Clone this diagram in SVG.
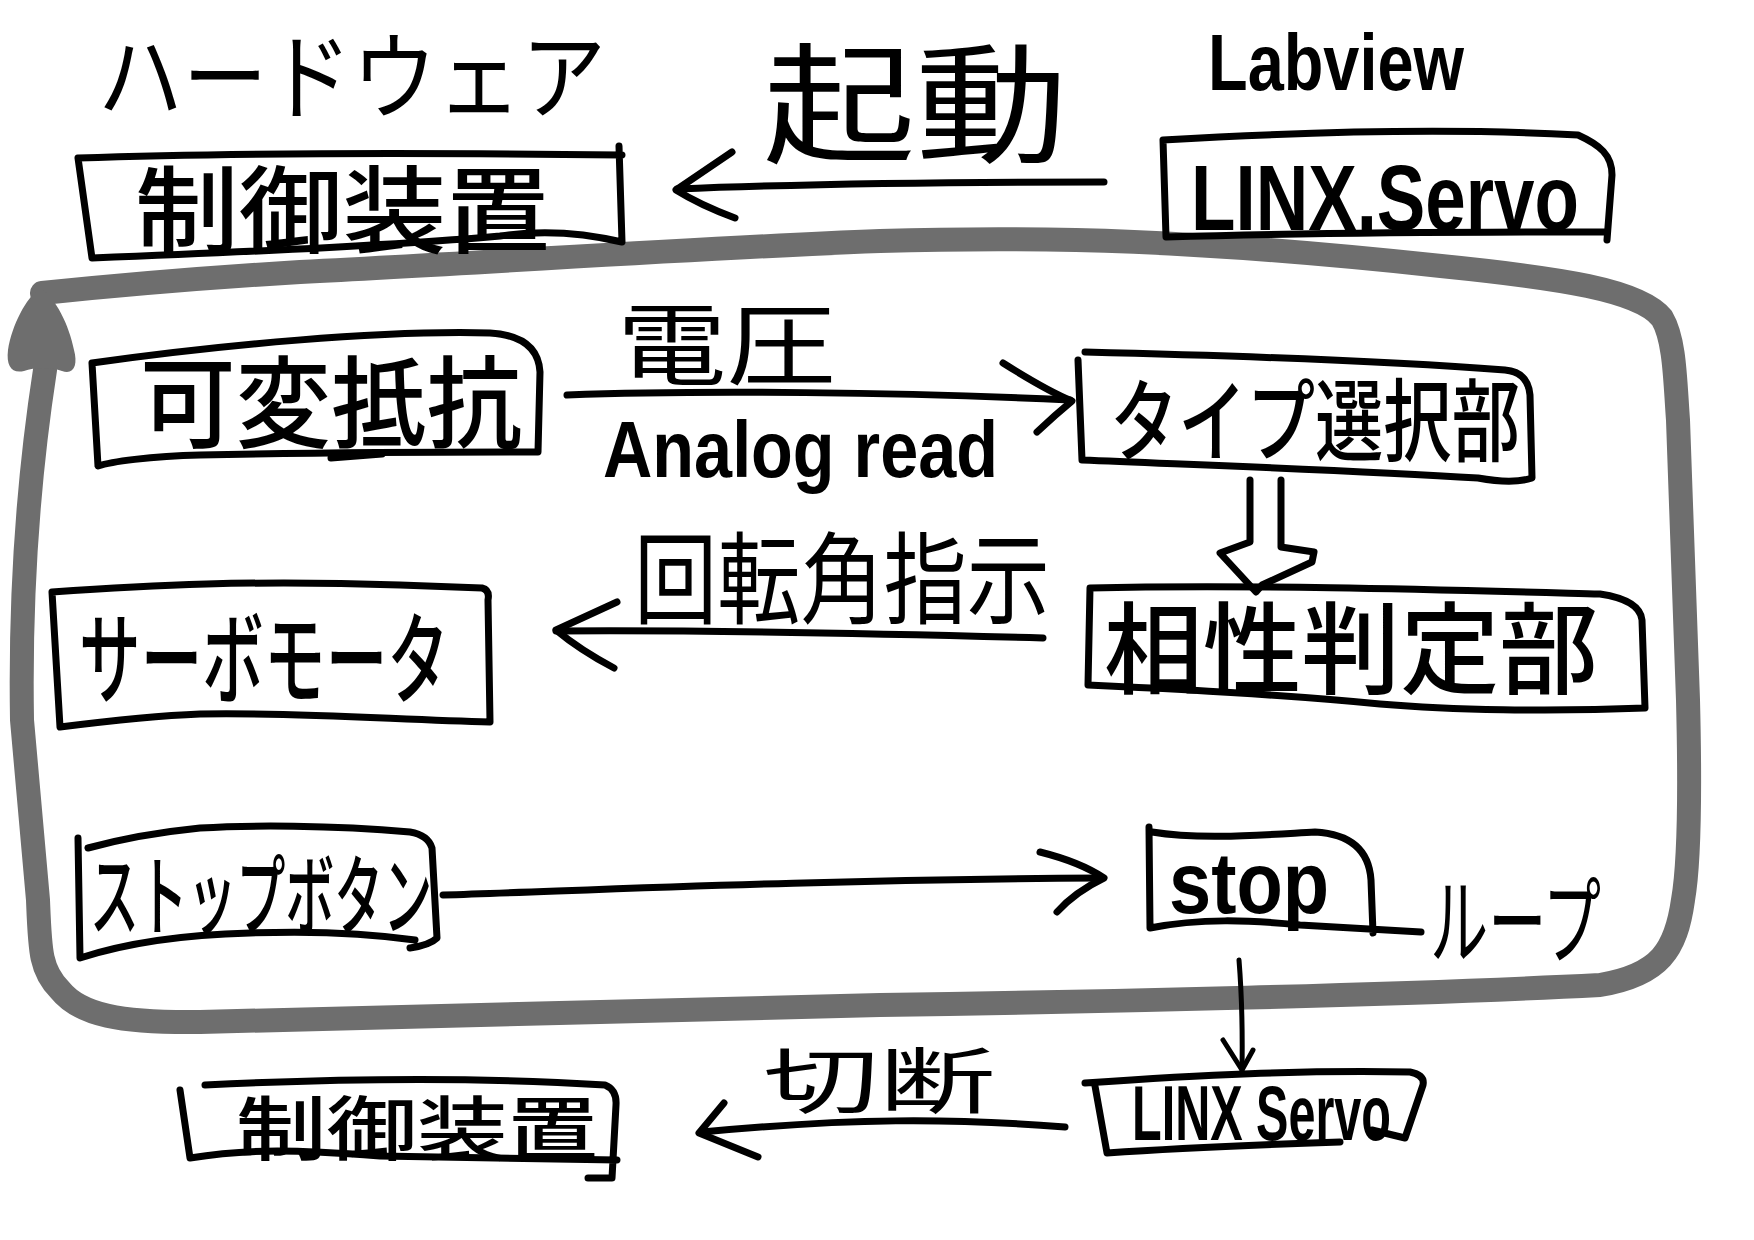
<svg xmlns="http://www.w3.org/2000/svg" width="1754" height="1240" viewBox="0 0 1754 1240">
<style>
.bg{fill:#fff}
.box{fill:none;stroke:#000;stroke-width:7;stroke-linecap:round;stroke-linejoin:round}
.ln{fill:none;stroke:#000;stroke-width:7;stroke-linecap:round;stroke-linejoin:round}
.thin{fill:none;stroke:#000;stroke-width:5;stroke-linecap:round;stroke-linejoin:round}
.loop{fill:none;stroke:#6e6e6e;stroke-width:24;stroke-linecap:round;stroke-linejoin:round}
.jp{font-family:"Noto Sans CJK JP","Noto Sans CJK SC",sans-serif;fill:#000;font-weight:500}
.jpl{font-family:"Noto Sans CJK JP","Noto Sans CJK SC",sans-serif;fill:#000;font-weight:normal}
.en{font-family:"Liberation Sans","DejaVu Sans",sans-serif;fill:#000;font-weight:bold}
</style>
<rect class="bg" x="0" y="0" width="1754" height="1240"/>

<g id="loop">
  <path class="loop" d="M42,293 C120,285 200,278 300,272 C500,262 700,248 880,241 C1050,236 1200,240 1441,266 C1560,278 1640,290 1662,318 C1675,340 1675,380 1678,420 L1688,700 C1690,780 1690,860 1683,900 C1676,950 1660,975 1600,985 C1400,995 1100,1002 880,1005 C600,1010 350,1020 200,1022 C120,1023 80,1015 60,990 C40,970 40,950 38,900 L22,720 C20,600 28,480 45,370"/>
  <path fill="#6e6e6e" d="M40,288 C26,298 12,325 8,350 C6,366 12,374 24,371 C34,367 52,367 62,371 C74,375 78,365 74,350 C69,325 56,298 40,288 Z"/>
</g>

<g id="title-hardware">
  <text class="jpl" x="98" y="112" font-size="95" textLength="508" lengthAdjust="spacingAndGlyphs">ハードウェア</text>
</g>
<g id="title-kido">
  <text class="jpl" x="763" y="152" font-size="130" textLength="305" lengthAdjust="spacingAndGlyphs">起動</text>
</g>
<g id="title-labview">
  <text class="en" x="1208" y="90" font-size="80" textLength="256" lengthAdjust="spacingAndGlyphs">Labview</text>
</g>

<g id="node-seigyo-top">
  <path class="box" d="M78,158 C250,152 450,153 622,155 M619,146 L622,242 C580,232 540,230 500,236 C400,245 250,252 92,258 L78,158"/>
  <text class="jp" x="135" y="246" font-size="95" textLength="415" lengthAdjust="spacingAndGlyphs">制御装置</text>
</g>

<g id="node-linx-top">
  <path class="box" d="M1163,140 C1300,132 1450,128 1578,135 C1600,145 1612,155 1612,175 L1607,240 M1605,232 C1450,232 1300,233 1166,237 L1163,140"/>
  <text class="en" x="1191" y="230" font-size="93" textLength="388" lengthAdjust="spacingAndGlyphs">LINX.Servo</text>
</g>

<g id="node-kahen">
  <path class="box" d="M92,363 C220,345 380,330 490,333 Q538,336 540,372 L538,452 C420,452 300,453 200,455 C150,456 110,462 98,466 L92,363"/>
  <path class="ln" stroke-width="9" d="M331,458 L382,454"/>
  <text class="jp" x="140" y="440" font-size="100" textLength="382" lengthAdjust="spacingAndGlyphs">可変抵抗</text>
</g>

<g id="node-type">
  <path class="box" d="M1085,352 C1250,356 1400,362 1505,370 Q1528,372 1530,395 L1532,478 C1520,482 1500,482 1478,478 C1350,470 1200,465 1082,460 L1078,360"/>
  <text class="jp" x="1110" y="454" font-size="90" textLength="410" lengthAdjust="spacingAndGlyphs">タイプ選択部</text>
</g>

<g id="node-aisei">
  <path class="box" d="M1090,588 C1250,584 1450,590 1600,594 Q1640,600 1642,620 L1645,708 C1550,712 1450,710 1380,704 C1300,696 1200,690 1088,685 L1090,588"/>
  <text class="jp" x="1104" y="686" font-size="100" textLength="494" lengthAdjust="spacingAndGlyphs">相性判定部</text>
</g>

<g id="node-servo">
  <path class="box" d="M52,592 C150,585 250,580 400,585 L482,588 Q490,590 488,600 L490,722 C400,720 300,712 200,714 C150,716 100,722 60,727 L52,592"/>
  <text class="jp" x="79" y="696" font-size="100" textLength="370" lengthAdjust="spacingAndGlyphs">サーボモータ</text>
</g>

<g id="node-stopbutton">
  <path class="box" d="M78,838 L80,958 C120,945 170,935 250,933 C330,930 380,935 415,940 M410,948 Q430,945 437,938 L432,848 Q428,835 410,832 C330,825 250,825 200,828 C150,833 110,842 88,848"/>
  <text class="jp" x="90" y="928" font-size="88" textLength="342" lengthAdjust="spacingAndGlyphs">ストップボタン</text>
</g>

<g id="node-stop">
  <path class="box" d="M1149,827 L1150,928 C1200,918 1250,920 1300,925 L1421,932 M1152,832 C1200,840 1260,835 1315,832 Q1368,835 1371,880 L1373,933"/>
  <text class="en" x="1169" y="913" font-size="88" textLength="160" lengthAdjust="spacingAndGlyphs">stop</text>
</g>

<g id="label-loop">
  <text class="jpl" x="1430" y="957" font-size="95" textLength="171" lengthAdjust="spacingAndGlyphs">ループ</text>
</g>

<g id="node-linx-bottom">
  <path class="box" d="M1085,1083 C1200,1075 1300,1070 1410,1072 Q1425,1075 1423,1085 L1405,1138 L1372,1130 M1340,1142 C1250,1145 1180,1148 1107,1153 L1095,1086"/>
  <text class="en" x="1132" y="1140" font-size="77" textLength="259" lengthAdjust="spacingAndGlyphs">LINX Servo</text>
</g>

<g id="node-seigyo-bottom">
  <path class="box" d="M180,1090 L190,1158 C250,1148 300,1150 380,1156 L617,1160 M205,1085 C350,1078 480,1077 605,1085 Q617,1090 616,1105 L612,1178 L588,1178"/>
  <text class="jp" x="236" y="1155" font-size="70" textLength="362" lengthAdjust="spacingAndGlyphs">制御装置</text>
</g>

<g id="connectors">
  <path class="ln" d="M1104,182 C950,182 800,184 677,189"/>
  <path class="ln" d="M732,152 L676,190 Q700,205 735,218"/>

  <path class="ln" d="M567,395 C700,390 900,392 1070,400"/>
  <path class="ln" d="M1003,363 C1030,380 1050,392 1072,401 Q1055,415 1037,432"/>

  <path class="ln" d="M1043,638 C900,634 700,630 556,631"/>
  <path class="ln" d="M617,602 L556,630 Q580,650 614,668"/>

  <path class="ln" d="M1250,480 L1250,542 L1220,553 L1256,592 L1262,585 L1312,562 L1314,552 L1281,547 L1281,480"/>

  <path class="ln" d="M443,895 C600,890 800,880 1100,878"/>
  <path class="ln" d="M1040,852 Q1080,862 1104,878 Q1075,892 1057,912"/>

  <path class="thin" d="M1239,960 Q1243,1010 1242,1070"/>
  <path class="thin" d="M1223,1040 L1242,1070 L1253,1050"/>

  <path class="ln" d="M1065,1127 C950,1118 850,1118 702,1132"/>
  <path class="ln" d="M724,1103 L699,1133 L758,1157"/>

  <text class="jpl" x="617" y="378" font-size="90" textLength="219" lengthAdjust="spacingAndGlyphs">電圧</text>
  <text class="en" x="603" y="477" font-size="80" textLength="395" lengthAdjust="spacingAndGlyphs">Analog read</text>
  <text class="jpl" x="634" y="616" font-size="100" textLength="416" lengthAdjust="spacingAndGlyphs">回転角指示</text>
  <text class="jpl" x="763" y="1107" font-size="72" textLength="232" lengthAdjust="spacingAndGlyphs">切断</text>
</g>
</svg>
